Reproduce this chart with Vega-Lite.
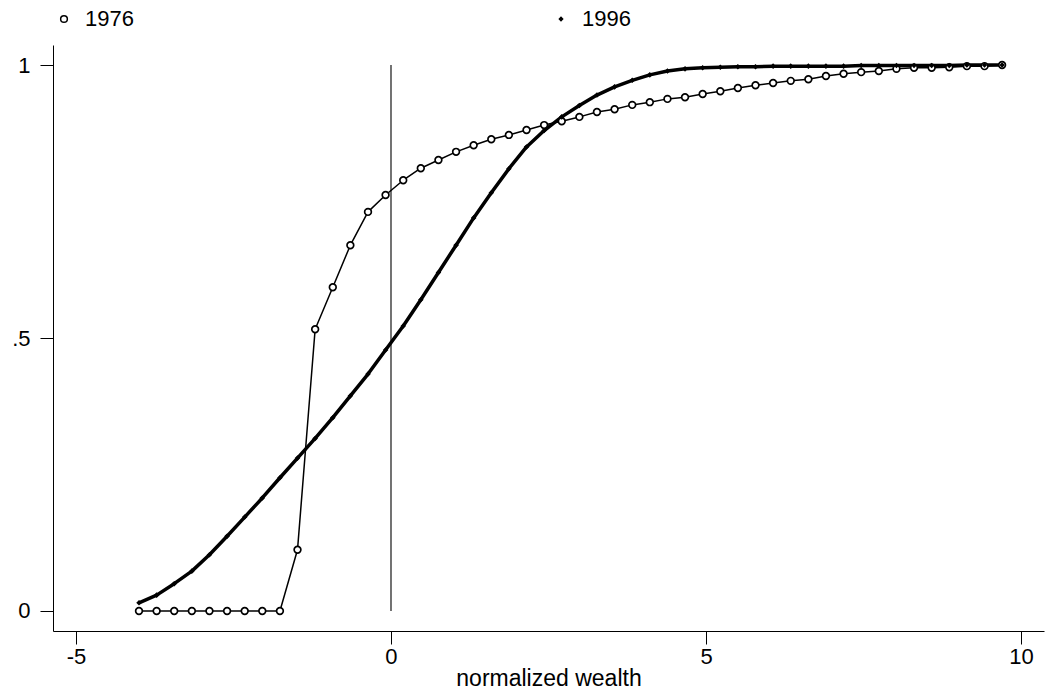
{
  "$schema": "https://vega.github.io/schema/vega-lite/v6.json",
  "autosize": "none",
  "width": 991,
  "height": 586,
  "padding": {"left": 53, "top": 45, "right": 2, "bottom": 60},
  "background": "white",
  "config": {
    "view": {"stroke": null},
    "font": "Liberation Sans",
    "axis": {
      "domainColor": "black",
      "domainWidth": 1,
      "tickColor": "black",
      "tickWidth": 1,
      "tickSize": 13,
      "labelColor": "black",
      "labelFont": "Liberation Sans",
      "labelFontSize": 22,
      "titleFont": "Liberation Sans",
      "titleFontSize": 23,
      "titleFontWeight": "normal",
      "titleColor": "black",
      "grid": false
    }
  },
  "datasets": {
    "cdf": [
      {"wealth": -4.000, "share": 0.000, "year": "1976"},
      {"wealth": -3.720, "share": 0.000, "year": "1976"},
      {"wealth": -3.441, "share": 0.000, "year": "1976"},
      {"wealth": -3.161, "share": 0.000, "year": "1976"},
      {"wealth": -2.882, "share": 0.000, "year": "1976"},
      {"wealth": -2.602, "share": 0.000, "year": "1976"},
      {"wealth": -2.322, "share": 0.000, "year": "1976"},
      {"wealth": -2.043, "share": 0.000, "year": "1976"},
      {"wealth": -1.763, "share": 0.000, "year": "1976"},
      {"wealth": -1.484, "share": 0.112, "year": "1976"},
      {"wealth": -1.204, "share": 0.516, "year": "1976"},
      {"wealth": -0.924, "share": 0.593, "year": "1976"},
      {"wealth": -0.645, "share": 0.670, "year": "1976"},
      {"wealth": -0.365, "share": 0.731, "year": "1976"},
      {"wealth": -0.086, "share": 0.762, "year": "1976"},
      {"wealth": 0.194, "share": 0.789, "year": "1976"},
      {"wealth": 0.473, "share": 0.811, "year": "1976"},
      {"wealth": 0.753, "share": 0.826, "year": "1976"},
      {"wealth": 1.033, "share": 0.841, "year": "1976"},
      {"wealth": 1.312, "share": 0.853, "year": "1976"},
      {"wealth": 1.592, "share": 0.864, "year": "1976"},
      {"wealth": 1.871, "share": 0.872, "year": "1976"},
      {"wealth": 2.151, "share": 0.881, "year": "1976"},
      {"wealth": 2.431, "share": 0.890, "year": "1976"},
      {"wealth": 2.710, "share": 0.897, "year": "1976"},
      {"wealth": 2.990, "share": 0.905, "year": "1976"},
      {"wealth": 3.269, "share": 0.914, "year": "1976"},
      {"wealth": 3.549, "share": 0.919, "year": "1976"},
      {"wealth": 3.829, "share": 0.927, "year": "1976"},
      {"wealth": 4.108, "share": 0.932, "year": "1976"},
      {"wealth": 4.388, "share": 0.938, "year": "1976"},
      {"wealth": 4.667, "share": 0.941, "year": "1976"},
      {"wealth": 4.947, "share": 0.947, "year": "1976"},
      {"wealth": 5.227, "share": 0.952, "year": "1976"},
      {"wealth": 5.506, "share": 0.958, "year": "1976"},
      {"wealth": 5.786, "share": 0.963, "year": "1976"},
      {"wealth": 6.065, "share": 0.967, "year": "1976"},
      {"wealth": 6.345, "share": 0.971, "year": "1976"},
      {"wealth": 6.625, "share": 0.974, "year": "1976"},
      {"wealth": 6.904, "share": 0.980, "year": "1976"},
      {"wealth": 7.184, "share": 0.984, "year": "1976"},
      {"wealth": 7.463, "share": 0.987, "year": "1976"},
      {"wealth": 7.743, "share": 0.989, "year": "1976"},
      {"wealth": 8.023, "share": 0.993, "year": "1976"},
      {"wealth": 8.302, "share": 0.995, "year": "1976"},
      {"wealth": 8.582, "share": 0.995, "year": "1976"},
      {"wealth": 8.861, "share": 0.996, "year": "1976"},
      {"wealth": 9.141, "share": 0.998, "year": "1976"},
      {"wealth": 9.421, "share": 0.998, "year": "1976"},
      {"wealth": 9.700, "share": 1.000, "year": "1976"},
      {"wealth": -4.000, "share": 0.015, "year": "1996"},
      {"wealth": -3.720, "share": 0.029, "year": "1996"},
      {"wealth": -3.441, "share": 0.050, "year": "1996"},
      {"wealth": -3.161, "share": 0.073, "year": "1996"},
      {"wealth": -2.882, "share": 0.103, "year": "1996"},
      {"wealth": -2.602, "share": 0.137, "year": "1996"},
      {"wealth": -2.322, "share": 0.172, "year": "1996"},
      {"wealth": -2.043, "share": 0.207, "year": "1996"},
      {"wealth": -1.763, "share": 0.244, "year": "1996"},
      {"wealth": -1.484, "share": 0.280, "year": "1996"},
      {"wealth": -1.204, "share": 0.316, "year": "1996"},
      {"wealth": -0.924, "share": 0.354, "year": "1996"},
      {"wealth": -0.645, "share": 0.394, "year": "1996"},
      {"wealth": -0.365, "share": 0.434, "year": "1996"},
      {"wealth": -0.086, "share": 0.478, "year": "1996"},
      {"wealth": 0.194, "share": 0.522, "year": "1996"},
      {"wealth": 0.473, "share": 0.570, "year": "1996"},
      {"wealth": 0.753, "share": 0.620, "year": "1996"},
      {"wealth": 1.033, "share": 0.670, "year": "1996"},
      {"wealth": 1.312, "share": 0.720, "year": "1996"},
      {"wealth": 1.592, "share": 0.766, "year": "1996"},
      {"wealth": 1.871, "share": 0.810, "year": "1996"},
      {"wealth": 2.151, "share": 0.850, "year": "1996"},
      {"wealth": 2.431, "share": 0.880, "year": "1996"},
      {"wealth": 2.710, "share": 0.905, "year": "1996"},
      {"wealth": 2.990, "share": 0.926, "year": "1996"},
      {"wealth": 3.269, "share": 0.945, "year": "1996"},
      {"wealth": 3.549, "share": 0.960, "year": "1996"},
      {"wealth": 3.829, "share": 0.972, "year": "1996"},
      {"wealth": 4.108, "share": 0.982, "year": "1996"},
      {"wealth": 4.388, "share": 0.989, "year": "1996"},
      {"wealth": 4.667, "share": 0.993, "year": "1996"},
      {"wealth": 4.947, "share": 0.995, "year": "1996"},
      {"wealth": 5.227, "share": 0.996, "year": "1996"},
      {"wealth": 5.506, "share": 0.997, "year": "1996"},
      {"wealth": 5.786, "share": 0.997, "year": "1996"},
      {"wealth": 6.065, "share": 0.998, "year": "1996"},
      {"wealth": 6.345, "share": 0.998, "year": "1996"},
      {"wealth": 6.625, "share": 0.998, "year": "1996"},
      {"wealth": 6.904, "share": 0.998, "year": "1996"},
      {"wealth": 7.184, "share": 0.998, "year": "1996"},
      {"wealth": 7.463, "share": 0.999, "year": "1996"},
      {"wealth": 7.743, "share": 0.999, "year": "1996"},
      {"wealth": 8.023, "share": 0.999, "year": "1996"},
      {"wealth": 8.302, "share": 0.999, "year": "1996"},
      {"wealth": 8.582, "share": 0.999, "year": "1996"},
      {"wealth": 8.861, "share": 0.999, "year": "1996"},
      {"wealth": 9.141, "share": 1.000, "year": "1996"},
      {"wealth": 9.421, "share": 1.000, "year": "1996"},
      {"wealth": 9.700, "share": 1.000, "year": "1996"}
    ],
    "refline": [
      {"wealth": 0, "low": 0, "high": 1}
    ]
  },
  "layer": [
    {
      "data": {"name": "refline"},
      "mark": {"type": "rule", "color": "black", "strokeWidth": 1.1},
      "encoding": {
        "x": {"field": "wealth", "type": "quantitative", "scale": {"domain": [-5.365, 10.365], "nice": false, "zero": false},
              "axis": {"values": [-5, 0, 5, 10], "labelExpr": "datum.value < 0 ? '-' + abs(datum.value) : '' + datum.value", "title": "normalized wealth", "labelPadding": 2, "titlePadding": 0, "labelFlush": false}},
        "y": {"field": "low", "type": "quantitative", "scale": {"domain": [-0.0367, 1.0367], "nice": false, "zero": false},
              "axis": {"values": [0, 0.5, 1], "title": null, "labelPadding": 10, "labelExpr": "datum.value == 0.5 ? '.5' : datum.value == 1 ? '1' : '0'"}},
        "y2": {"field": "high"}
      }
    },
    {
      "data": {"name": "cdf"},
      "transform": [{"filter": "datum.year == '1976'"}],
      "mark": {"type": "line", "color": "black", "strokeWidth": 1.5, "strokeJoin": "round"},
      "encoding": {
        "x": {"field": "wealth", "type": "quantitative"},
        "y": {"field": "share", "type": "quantitative"}
      }
    },
    {
      "data": {"name": "cdf"},
      "transform": [{"filter": "datum.year == '1996'"}],
      "mark": {"type": "line", "color": "black", "strokeWidth": 3.5, "strokeJoin": "round"},
      "encoding": {
        "x": {"field": "wealth", "type": "quantitative"},
        "y": {"field": "share", "type": "quantitative"}
      }
    },
    {
      "data": {"name": "cdf"},
      "mark": {"type": "point", "stroke": "black", "strokeWidth": 1.7, "opacity": 1},
      "encoding": {
        "x": {"field": "wealth", "type": "quantitative"},
        "y": {"field": "share", "type": "quantitative"},
        "shape": {"field": "year", "type": "nominal", "scale": {"domain": ["1976", "1996"], "range": ["circle", "diamond"]},
                  "legend": {"title": null, "orient": "none", "legendX": 0, "legendY": -37, "direction": "horizontal", "columnPadding": 416, "labelFontSize": 22, "labelFont": "Liberation Sans", "labelColor": "black", "labelOffset": 10, "symbolStrokeWidth": 1.5, "symbolStrokeColor": "black", "padding": 0}},
        "fill": {"field": "year", "type": "nominal", "scale": {"domain": ["1976", "1996"], "range": ["white", "black"]}},
        "size": {"field": "year", "type": "nominal", "scale": {"domain": ["1976", "1996"], "range": [45, 10]}}
      }
    }
  ]
}
